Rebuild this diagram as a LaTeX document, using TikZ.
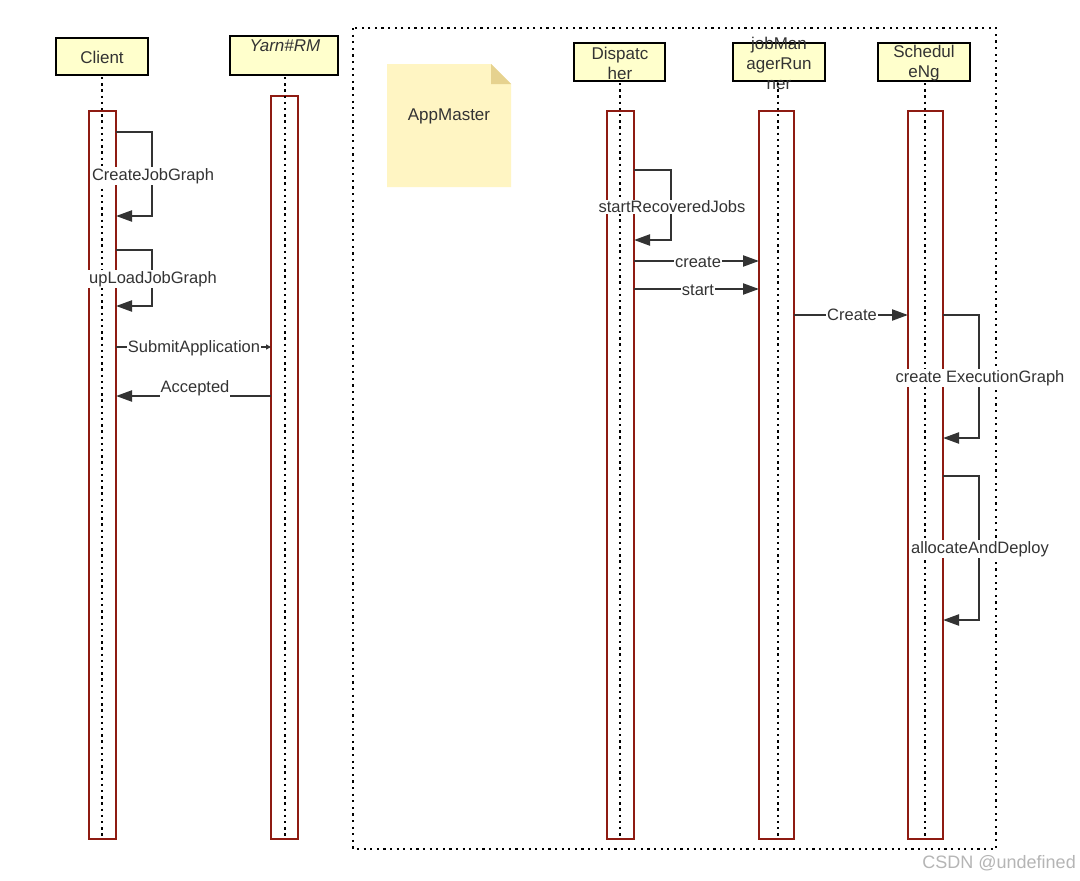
\documentclass[tikz,border=0pt]{standalone}
\usepackage{fontspec}
\setmainfont{Liberation Sans}
\usetikzlibrary{arrows.meta}
\definecolor{actred}{HTML}{8E1B12}
\definecolor{hdrfill}{HTML}{FFFFCC}
\definecolor{notefill}{HTML}{FFF5C3}
\definecolor{notefold}{HTML}{E6D28F}
\definecolor{txt}{HTML}{333333}
\definecolor{wm}{HTML}{B5B5B5}
\begin{document}
\begin{tikzpicture}[x=1pt,y=-1pt,
  hdr/.style={draw=black,line width=2.8pt,fill=hdrfill},
  act/.style={draw=actred,line width=2.4pt,fill=white},
  life/.style={line width=2.6pt,dash pattern=on 2.4pt off 3.8pt},
  frame/.style={line width=2.2pt,dash pattern=on 2.2pt off 4.4pt},
  msg/.style={draw=txt,line width=2.2pt,-{Triangle[length=16pt,width=11pt]}},
  smallmsg/.style={draw=txt,line width=1.8pt,-{Triangle[length=5pt,width=5pt]}},
  lbl/.style={fill=white,text=txt,font=\fontsize{16.5}{19}\selectfont,inner sep=1pt},
  htxt/.style={text=txt,font=\fontsize{17}{20}\selectfont,align=center,inner sep=0pt}
]
\useasboundingbox (0,0) rectangle (1080,881);
\fill[white] (0,0) rectangle (1080,881);

% frame
\draw[frame] (353,28) rectangle (996,849);

% note
\fill[notefill] (387,64) -- (491,64) -- (511,84) -- (511,187) -- (387,187) -- cycle;
\fill[notefold] (491,64) -- (511,84) -- (491,84) -- cycle;
\node[htxt] (note) at (449,116) {AppMaster};

% header boxes
\draw[hdr] (56,38) rectangle (148,75);
\node[htxt] (client) at (102,57) {Client};
\draw[hdr] (230,36) rectangle (338,75);
\node[htxt,font=\fontsize{17}{20}\selectfont\itshape] (rm) at (285,46) {Yarn\#RM};
\draw[hdr] (574,43) rectangle (665,81);
\node[htxt] (disp) at (620,63) {Dispatc\\her};
\draw[hdr] (733,43) rectangle (825,81);
\node[htxt] (jmr) at (779,63) {jobMan\\agerRun\\ner};
\draw[hdr] (878,43) rectangle (970,81);
\node[htxt] (sched) at (924,63) {Schedul\\eNg};

% activations
\draw[act] (89,111) rectangle (116,839);
\draw[act] (271,96) rectangle (298,839);
\draw[act] (607,111) rectangle (634,839);
\draw[act] (759,111) rectangle (794,839);
\draw[act] (908,111) rectangle (943,839);

% lifelines
\draw[life] (102,77) -- (102,839);
\draw[life] (285,77) -- (285,839);
\draw[life] (620,83) -- (620,839);
\draw[life] (778,83) -- (778,839);
\draw[life] (925,83) -- (925,839);

% coordinates
\coordinate (a1) at (116,132); \coordinate (a2) at (116,216);
\coordinate (b1) at (116,250); \coordinate (b2) at (116,306);
\coordinate (s1) at (116,347); \coordinate (s2) at (271,347);
\coordinate (r1) at (271,396); \coordinate (r2) at (116,396);
\coordinate (d1) at (634,170); \coordinate (d2) at (634,240);
\coordinate (c1) at (634,261); \coordinate (c2) at (759,261);
\coordinate (t1) at (634,289); \coordinate (t2) at (759,289);
\coordinate (j1) at (794,315); \coordinate (j2) at (908,315);
\coordinate (e1) at (943,315); \coordinate (e2) at (943,438);
\coordinate (g1) at (943,476); \coordinate (g2) at (943,620);

% messages
\draw[msg] (a1) -| (152,216) -- (a2);
\draw[msg] (b1) -| (152,306) -- (b2);
\draw[smallmsg] (s1) -- (s2);
\draw[msg] (r1) -- (r2);
\draw[msg] (d1) -| (671,240) -- (d2);
\draw[msg] (c1) -- (c2);
\draw[msg] (t1) -- (t2);
\draw[msg] (j1) -- (j2);
\draw[msg] (e1) -| (979,438) -- (e2);
\draw[msg] (g1) -| (979,620) -- (g2);

% labels
\node[lbl] (l1) at (153,176) {CreateJobGraph};
\node[lbl] (l2) at (153,279) {upLoadJobGraph};
\node[lbl] (l3) at (194,348) {SubmitApplication};
\node[lbl] (l4) at (195,388) {Accepted};
\node[lbl] (l5) at (672,207) {startRecoveredJobs};
\node[lbl] (l6) at (698,262) {create};
\node[lbl] (l7) at (698,290) {start};
\node[lbl] (l8) at (852,315) {Create};
\node[lbl] (l9) at (980,378) {create ExecutionGraph};
\node[lbl] (l10) at (980,549) {allocateAndDeploy};

% watermark
\node[text=wm,font=\fontsize{18}{20}\selectfont,anchor=east,inner sep=0pt] (wmk) at (1076,863) {CSDN @undefined};
\end{tikzpicture}
\end{document}
